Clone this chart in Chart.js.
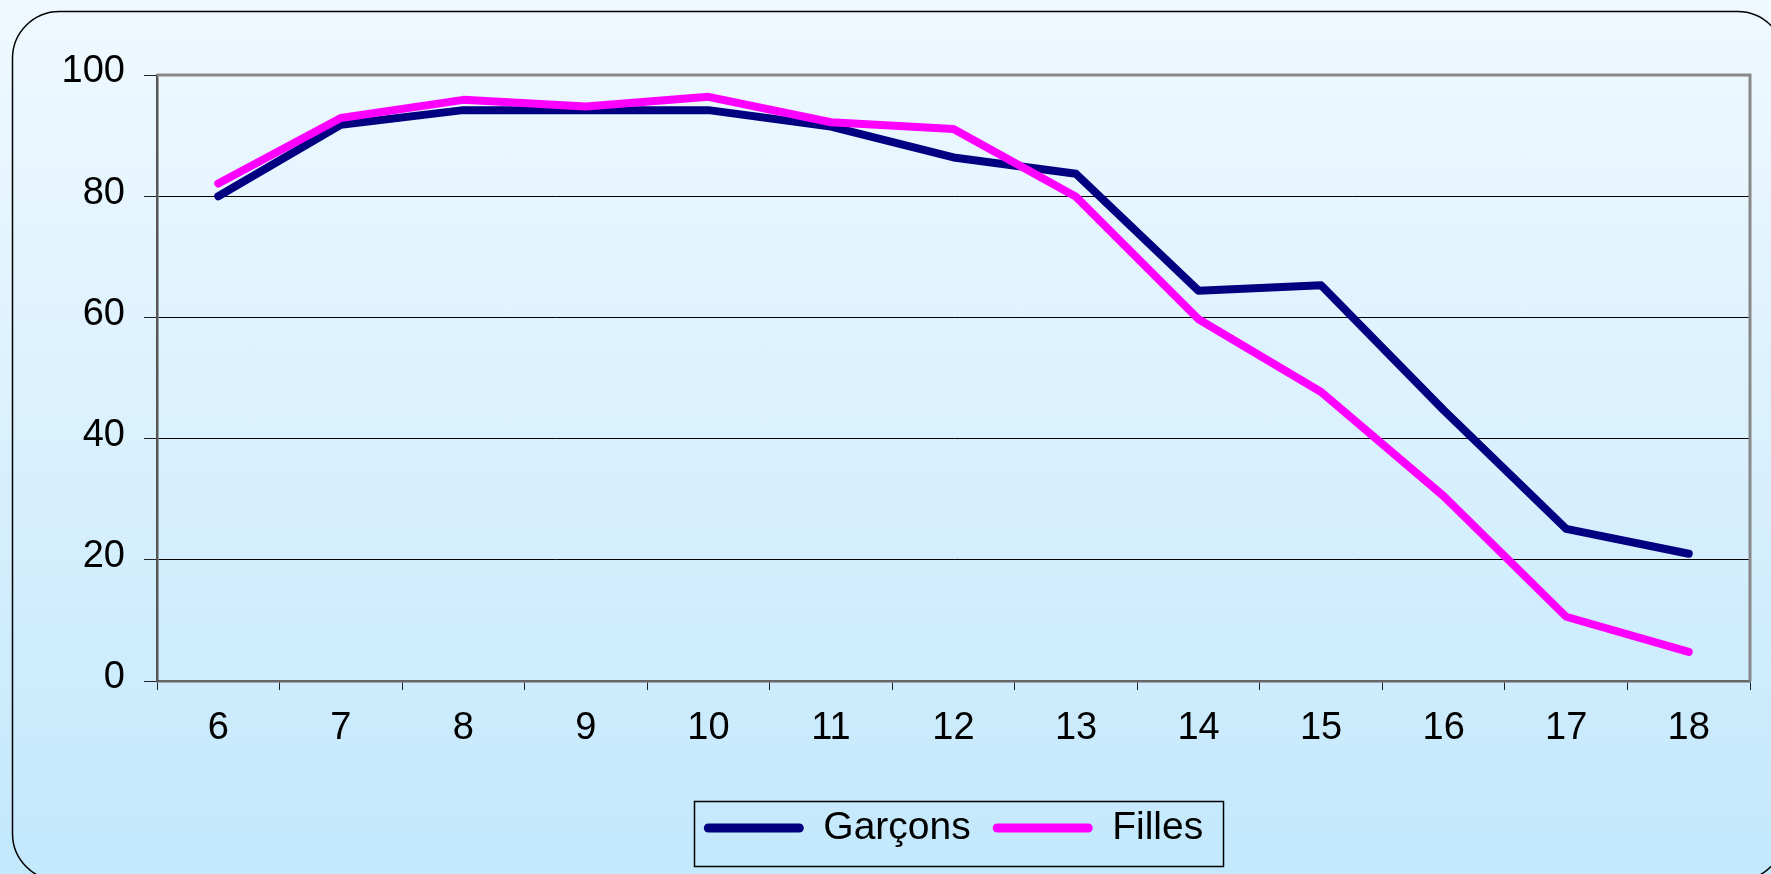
<!DOCTYPE html>
<html><head><meta charset="utf-8">
<script src="https://cdn.jsdelivr.net/npm/chart.js@4/dist/chart.umd.min.js"></script>
<style>
html,body{margin:0;padding:0;width:1771px;height:874px;overflow:hidden;background:linear-gradient(to bottom,#f0f9ff 0%,#c3e8fc 100%);}
#wrap{position:relative;width:1771px;height:874px}
canvas{display:block}
</style></head><body>
<div id="wrap"><canvas id="c"></canvas></div>
<script>
const ages = ['6','7','8','9','10','11','12','13','14','15','16','17','18'];
const garcons = [80, 91.8, 94.2, 94.2, 94.2, 91.5, 86.4, 83.7, 64.4, 65.3, 44.7, 25.1, 21.0];
const filles  = [82.1, 92.9, 95.9, 94.8, 96.4, 92.2, 91.1, 79.9, 59.7, 47.7, 30.5, 10.6, 4.8];
const seriesNames = ['Garçons', 'Filles'];
const yMin = 0, yMax = 100, yStep = 20;

const FONT = '"Liberation Sans", Arial, sans-serif';

const framePlugin = {
  id: 'frame',
  beforeDraw(chart) {
    const ctx = chart.ctx;
    ctx.save();
    ctx.strokeStyle = '#000';
    ctx.lineWidth = 1.5;
    ctx.beginPath();
    ctx.roundRect(12.5, 11.5, 1772, 869, 47);
    ctx.stroke();
    ctx.restore();
  },
  beforeDatasetsDraw(chart) {
    const a = chart.chartArea, ctx = chart.ctx;
    ctx.save();
    ctx.strokeStyle = '#888';
    ctx.lineWidth = 3;
    ctx.beginPath();
    ctx.moveTo(a.left, a.top);
    ctx.lineTo(a.right, a.top);
    ctx.lineTo(a.right, a.bottom);
    ctx.stroke();
    ctx.restore();
  },
  afterDraw(chart) {
    const lg = chart.legend;
    if (!lg || !lg.legendHitBoxes || !lg.legendHitBoxes.length) return;
    const hb = lg.legendHitBoxes;
    const left = hb[0].left - 10;
    const right = hb[hb.length-1].left + hb[hb.length-1].width + 20;
    const cy = hb[0].top + hb[0].height/2;
    const ctx = chart.ctx;
    ctx.save();
    ctx.strokeStyle = '#000';
    ctx.lineWidth = 1.5;
    ctx.strokeRect(Math.round(left)+0.5, Math.round(cy-27.5)+0.5, Math.round(right-left), 65);
    ctx.restore();
  }
};

new Chart(document.getElementById('c'), {
  type: 'line',
  data: {
    labels: ages,
    datasets: [
      { label: seriesNames[0], data: garcons, borderColor: '#000080', backgroundColor: '#000080',
        borderWidth: 8, pointRadius: 0, tension: 0, borderCapStyle: 'round', borderJoinStyle: 'round', order: 1 },
      { label: seriesNames[1], data: filles, borderColor: '#ff00ff', backgroundColor: '#ff00ff',
        borderWidth: 8, pointRadius: 0, tension: 0, borderCapStyle: 'round', borderJoinStyle: 'round', order: 0 }
    ]
  },
  options: {
    responsive: true,
    maintainAspectRatio: false,
    animation: false,
    layout: { padding: { top: 75, right: 21, left: 0, bottom: 16.5 } },
    plugins: {
      tooltip: { enabled: false },
      legend: {
        position: 'bottom',
        fullSize: false,
        labels: {
          font: { family: FONT, size: 39 },
          color: '#000',
          boxWidth: 100,
          boxHeight: 9,
          padding: 22,
          useBorderRadius: true,
          borderRadius: 4.5,
          sort: (a, b) => a.datasetIndex - b.datasetIndex,
          generateLabels(chart) {
            const items = Chart.defaults.plugins.legend.labels.generateLabels(chart);
            items.forEach(it => { it.fillStyle = it.strokeStyle; it.lineWidth = 0; it.borderRadius = 4.5; });
            return items;
          }
        }
      }
    },
    scales: {
      x: {
        offset: true,
        grid: { offset: true, drawOnChartArea: false, drawTicks: true, tickLength: 9, tickColor: '#222', lineWidth: 1 },
        border: { display: true, color: '#666', width: 2.5 },
        ticks: { font: { family: FONT, size: 38 }, color: '#000', padding: 15.5, maxRotation: 0 },
        afterFit(s) { s.height = 105.5; }
      },
      y: {
        min: yMin, max: yMax,
        grid: {
          color: c => (c.tick && c.tick.value === yMax) ? 'rgba(0,0,0,0)' : '#000',
          lineWidth: 1, drawTicks: true, tickLength: 13, tickColor: '#222'
        },
        border: { display: true, color: '#555', width: 2.5 },
        ticks: { stepSize: yStep, font: { family: FONT, size: 38 }, color: '#000', padding: 19, labelOffset: -3 },
        afterFit(s) { s.width = 157; }
      }
    }
  },
  plugins: [framePlugin]
});
</script>
</body></html>
